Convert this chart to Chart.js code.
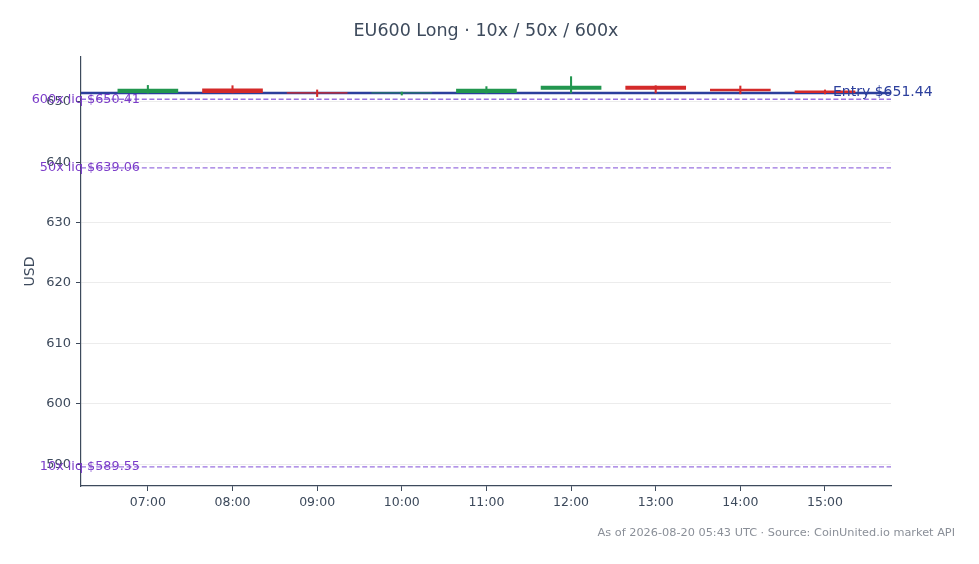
<!DOCTYPE html>
<html>
<head>
<meta charset="utf-8">
<script src="https://cdn.jsdelivr.net/npm/chart.js@4.4.1/dist/chart.umd.min.js"></script>
<style>
html,body{margin:0;padding:0;background:#fff;}
#wrap{width:979px;height:564px;position:relative;}
</style>
</head>
<body>
<div id="wrap"><canvas id="c" width="979" height="564"></canvas></div>
<script>
// ---- data ----
const hours  = ['07:00','08:00','09:00','10:00','11:00','12:00','13:00','14:00','15:00'];
const opens  = [651.50, 652.15, 651.50, 651.45, 651.50, 652.05, 652.60, 652.10, 651.80];
const closes = [652.10, 651.50, 651.40, 651.45, 652.10, 652.60, 652.05, 651.80, 651.50];
const highs  = [652.70, 652.65, 651.95, 651.60, 652.50, 654.15, 652.65, 652.60, 651.95];
const lows   = [651.40, 651.45, 650.85, 651.10, 651.40, 651.45, 651.45, 651.30, 651.30];
const entryPrice = 651.44;
const liqLabels = ['600x liq', '50x liq', '10x liq'];
const liqPrices = [650.41, 639.06, 589.55];
const yTicks = [590, 600, 610, 620, 630, 640, 650];

const GREEN = '#22964f', RED = '#d42a2a', ENTRY = '#2c3f9c', LIQ = '#9a72df', LIQTXT = '#7b3cc9';
const TEXT = '#3d4a5c';
const xs = hours.map(h => parseInt(h, 10));
const X_MIN = 6.21, X_MAX = 15.78, Y_MIN = 586.4, Y_MAX = 657.4;
const colors = opens.map((o, i) => closes[i] >= o ? GREEN : RED);

const datasets = [];
datasets.push({
  type: 'line', label: 'entry', order: 5,
  data: [{x: X_MIN, y: entryPrice}, {x: X_MAX, y: entryPrice}],
  borderColor: ENTRY, borderWidth: 2.6, pointRadius: 0
});
liqPrices.forEach((p, i) => datasets.push({
  type: 'line', label: liqLabels[i], order: 6,
  data: [{x: X_MIN, y: p}, {x: X_MAX, y: p}],
  borderColor: LIQ, borderWidth: 1.3, borderDash: [5, 2.6], pointRadius: 0
}));
datasets.push({
  type: 'bar', label: 'wick', order: 2, grouped: false,
  data: xs.map((x, i) => ({x: x, y: [lows[i], highs[i]]})),
  backgroundColor: colors, borderWidth: 0, barThickness: 1.4, borderSkipped: false
});
datasets.push({
  type: 'bar', label: 'body', order: 1, grouped: false,
  data: xs.map((x, i) => ({x: x, y: [Math.min(opens[i], closes[i]), Math.max(opens[i], closes[i]) + (opens[i] === closes[i] ? 0.02 : 0)]})),
  backgroundColor: colors, borderWidth: 0, barThickness: 60, borderSkipped: false
});

const textPlugin = {
  id: 'texts',
  beforeDraw(chart) {
    const ctx = chart.ctx;
    ctx.save();
    ctx.fillStyle = '#fff';
    ctx.fillRect(0, 0, chart.width, chart.height);
    ctx.restore();
  },
  afterDraw(chart) {
    const ctx = chart.ctx, a = chart.chartArea, ys = chart.scales.y;
    ctx.save();
    ctx.textBaseline = 'middle';
    // title
    ctx.fillStyle = TEXT;
    ctx.font = '17.5px "DejaVu Sans"';
    ctx.textAlign = 'center';
    ctx.fillText('EU600 Long · 10x / 50x / 600x', (a.left + a.right) / 2, 31);
    // y title
    ctx.save();
    ctx.translate(30, (a.top + a.bottom) / 2);
    ctx.rotate(-Math.PI / 2);
    ctx.font = '14px "DejaVu Sans"';
    ctx.fillText('USD', 0, 0);
    ctx.restore();
    // liq labels
    ctx.textAlign = 'right';
    ctx.font = '12.8px "DejaVu Sans"';
    ctx.fillStyle = LIQTXT;
    liqPrices.forEach((p, i) => {
      ctx.fillText(liqLabels[i] + ' $' + p.toFixed(2), a.left + 59, ys.getPixelForValue(p));
    });
    // entry label
    ctx.textAlign = 'left';
    ctx.font = '14px "DejaVu Sans"';
    ctx.fillStyle = ENTRY;
    ctx.fillText('Entry $' + entryPrice.toFixed(2), a.right - 58, ys.getPixelForValue(entryPrice) - 0.5);
    // footer
    ctx.textAlign = 'right';
    ctx.font = '11.3px "DejaVu Sans"';
    ctx.fillStyle = '#8a8f98';
    ctx.fillText('As of 2026-08-20 05:43 UTC · Source: CoinUnited.io market API', 955, 533);
    ctx.restore();
  }
};

new Chart(document.getElementById('c'), {
  type: 'bar',
  data: { datasets },
  plugins: [textPlugin],
  options: {
    responsive: false,
    animation: false,
    devicePixelRatio: 1,
    layout: { padding: { left: 0, right: 88, top: 57, bottom: 0 } },
    plugins: { legend: { display: false }, tooltip: { enabled: false }, title: { display: false } },
    scales: {
      x: {
        type: 'linear', min: X_MIN, max: X_MAX, offset: false,
        afterFit: s => { s.height = 78; },
        afterBuildTicks: s => { s.ticks = xs.map(v => ({ value: v })); },
        ticks: { callback: (v) => hours[xs.indexOf(v)] || '', color: TEXT, font: { family: 'DejaVu Sans', size: 12.5 }, padding: 4, maxRotation: 0, autoSkip: false },
        grid: { offset: false, drawOnChartArea: false, drawTicks: true, tickLength: 5, tickColor: TEXT, tickWidth: 1 },
        border: { color: TEXT, width: 1.2 }
      },
      y: {
        type: 'linear', min: Y_MIN, max: Y_MAX,
        afterFit: s => { s.width = 81; },
        afterBuildTicks: s => { s.ticks = yTicks.map(v => ({ value: v })); },
        ticks: { color: TEXT, font: { family: 'DejaVu Sans', size: 13 }, padding: 5 },
        grid: { color: '#ececec', lineWidth: 1, drawTicks: true, tickLength: 5, tickColor: TEXT, tickWidth: 1 },
        border: { color: TEXT, width: 1.2 }
      }
    }
  }
});
</script>
</body>
</html>
